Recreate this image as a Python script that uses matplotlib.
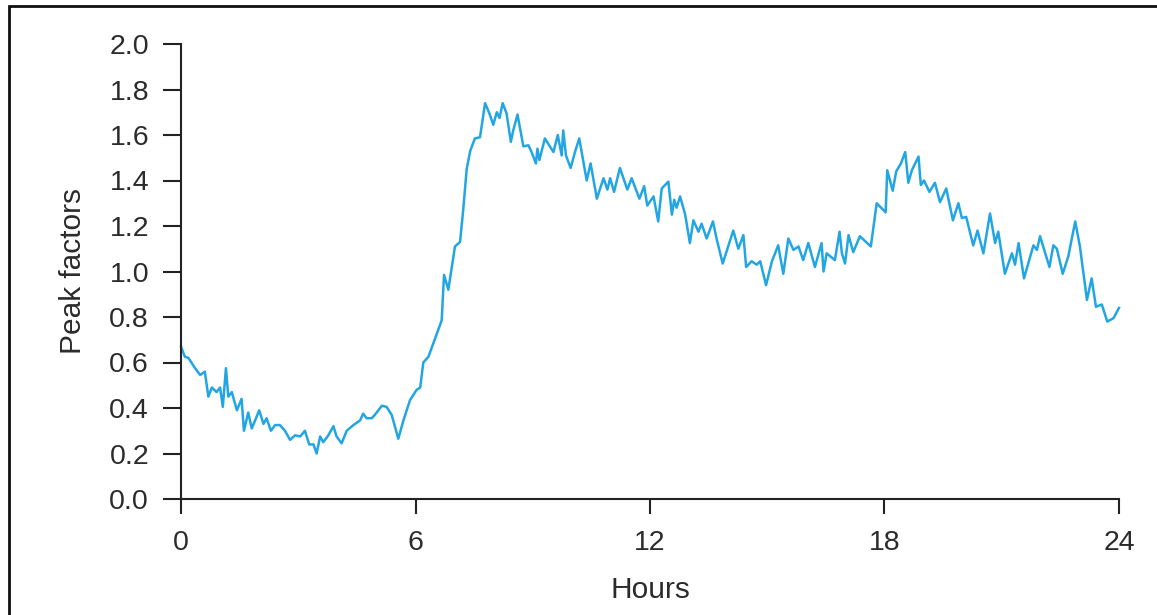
import matplotlib
matplotlib.use("Agg")
import matplotlib.pyplot as plt
import matplotlib.patches as patches

# hours of the day and the peak factor
hours = [0.00, 0.10, 0.19, 0.36, 0.49, 0.61, 0.70, 0.79, 0.91, 1.00, 1.07, 1.15, 1.21, 1.30,
         1.43, 1.55, 1.61, 1.72, 1.81, 1.92, 2.00, 2.11, 2.19, 2.30, 2.41, 2.53, 2.66, 2.79,
         2.92, 3.05, 3.17, 3.28, 3.39, 3.47, 3.56, 3.64, 3.77, 3.90, 3.98, 4.11, 4.24, 4.41,
         4.58, 4.66, 4.75, 4.88, 4.96, 5.14, 5.26, 5.39, 5.56, 5.69, 5.86, 6.03, 6.12,
         6.20, 6.33, 6.50, 6.67, 6.73, 6.84, 7.01, 7.14, 7.22, 7.31, 7.40, 7.52, 7.65, 7.78,
         7.89, 7.99, 8.08, 8.15, 8.23, 8.33, 8.44, 8.50, 8.61, 8.76, 8.89, 8.97, 9.08, 9.12,
         9.17, 9.31, 9.53, 9.64, 9.74, 9.78, 9.85, 9.97, 10.08, 10.19, 10.38, 10.48, 10.64,
         10.81, 10.91, 10.98, 11.08, 11.23, 11.42, 11.53, 11.73, 11.85, 11.93,
         12.09, 12.21, 12.30, 12.47, 12.56, 12.62, 12.68, 12.77, 12.90, 13.02, 13.11, 13.24,
         13.32, 13.45, 13.61, 13.71, 13.86, 13.98, 14.13, 14.26, 14.39, 14.46, 14.60, 14.73,
         14.82, 14.97, 15.12, 15.28, 15.41, 15.54, 15.67, 15.80, 15.92, 16.05, 16.22, 16.39,
         16.44, 16.52, 16.73, 16.85, 16.91, 16.99, 17.08, 17.20, 17.37, 17.65, 17.80, 18.03,
         18.07, 18.21, 18.30, 18.42,
         18.53, 18.61, 18.70, 18.87, 18.93, 19.01, 19.15, 19.29, 19.42, 19.58, 19.75, 19.89,
         19.98, 20.09, 20.27, 20.38, 20.53, 20.70, 20.83, 20.91, 21.08, 21.26, 21.34, 21.43,
         21.57, 21.81, 21.90, 21.98, 22.22, 22.32, 22.41, 22.56, 22.70, 22.88, 23.00, 23.18,
         23.30, 23.41, 23.56, 23.70, 23.86, 24.00]

peak_factor = [0.67, 0.625, 0.62, 0.575, 0.545, 0.56, 0.45, 0.49, 0.47, 0.49, 0.405, 0.575, 0.45, 0.47,
               0.39, 0.44, 0.30, 0.38, 0.31, 0.355, 0.39, 0.33, 0.355, 0.30, 0.325, 0.325, 0.30, 0.26,
               0.28, 0.275, 0.30, 0.24, 0.24, 0.20, 0.275, 0.25, 0.28, 0.32, 0.275, 0.245, 0.30, 0.325,
               0.345, 0.375, 0.355, 0.355, 0.37, 0.41, 0.405, 0.37, 0.265, 0.345, 0.435, 0.48, 0.49,
               0.60, 0.625, 0.705, 0.785, 0.985, 0.92, 1.11, 1.13, 1.27, 1.45, 1.53, 1.585, 1.59, 1.74,
               1.695, 1.645, 1.70, 1.675, 1.74, 1.695, 1.57, 1.62, 1.69, 1.55, 1.555, 1.525, 1.475, 1.54,
               1.49, 1.585, 1.525, 1.60, 1.51, 1.62, 1.51, 1.455, 1.525, 1.585, 1.40, 1.475, 1.32,
               1.41, 1.36, 1.41, 1.35, 1.455, 1.36, 1.41, 1.32, 1.375, 1.29,
               1.33, 1.22, 1.365, 1.395, 1.25, 1.315, 1.28, 1.33, 1.25, 1.125, 1.225, 1.175,
               1.21, 1.145, 1.22, 1.14, 1.035, 1.10, 1.18, 1.10, 1.16, 1.02, 1.045, 1.03,
               1.045, 0.94, 1.045, 1.115, 0.99, 1.145, 1.095, 1.11, 1.05, 1.125, 1.02, 1.125,
               1.00, 1.08, 1.05, 1.175, 1.08, 1.035, 1.16, 1.085, 1.155, 1.11, 1.30, 1.26,
               1.445, 1.355, 1.44, 1.475,
               1.525, 1.39, 1.445, 1.505, 1.38, 1.40, 1.35, 1.39, 1.305, 1.365, 1.225, 1.30,
               1.235, 1.24, 1.115, 1.18, 1.08, 1.255, 1.125, 1.175, 0.99, 1.08, 1.03, 1.125,
               0.97, 1.115, 1.095, 1.155, 1.02, 1.115, 1.10, 0.99, 1.065, 1.22, 1.11, 0.875,
               0.97, 0.845, 0.855, 0.78, 0.795, 0.84]

x_ticks = [0, 6, 12, 18, 24]
y_ticks = [0.0, 0.2, 0.4, 0.6, 0.8, 1.0, 1.2, 1.4, 1.6, 1.8, 2.0]

text_colour = "#2b2b2b"
plt.rcParams["font.family"] = ["Liberation Sans", "DejaVu Sans"]

fig = plt.figure(figsize=(11.57, 6.15), dpi=100)
ax = fig.add_axes([181 / 1157, 1 - 499 / 615, (1119 - 181) / 1157, (499 - 44) / 615])

ax.plot(hours, peak_factor, color="#22a6e3", lw=1.8, clip_on=False)

ax.set_xlim(0, 24)
ax.set_ylim(0, 2.0)
ax.set_xticks(x_ticks)
ax.set_xticklabels([str(t) for t in x_ticks])
ax.set_yticks(y_ticks)
ax.set_yticklabels([f"{t:.1f}" for t in y_ticks])

for side in ["top", "right"]:
    ax.spines[side].set_visible(False)
for side in ["left", "bottom"]:
    ax.spines[side].set_linewidth(1.5)
    ax.spines[side].set_color("#222222")

ax.tick_params(axis="y", direction="out", length=13, width=1.5, color="#222222",
               labelsize=20.5, labelcolor=text_colour, pad=10)
ax.tick_params(axis="x", direction="out", length=11, width=1.5, color="#222222",
               labelsize=20.5, labelcolor=text_colour, pad=11)

ax.set_xlabel("Hours", fontsize=21.5, color=text_colour, labelpad=15)
ax.set_ylabel("Peak factors", fontsize=21.5, color=text_colour, labelpad=16)

# frame round the whole picture (open at right and bottom)
frame = patches.Rectangle((8.7 / 1157, -0.1), 1.2, 1.1 - 5.7 / 615, transform=fig.transFigure,
                          fill=False, edgecolor="#111111", lw=2.0, clip_on=False)
fig.patches.append(frame)

fig.savefig("out.png", dpi=100)
